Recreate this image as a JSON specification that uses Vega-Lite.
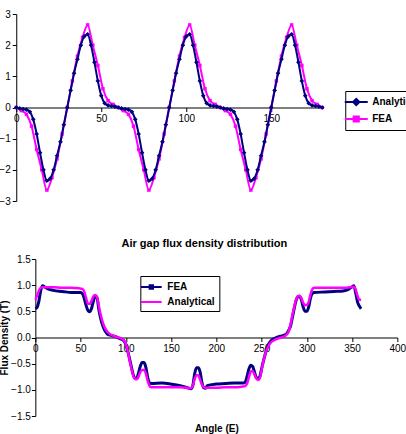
{
  "$schema": "https://vega.github.io/schema/vega-lite/v6.json",
  "padding": {"left": -2, "top": 9, "right": 0, "bottom": 0},
  "background": "white",
  "config": {
    "view": {"stroke": null},
    "font": "Liberation Sans",
    "axis": {
      "grid": false,
      "domainColor": "black",
      "tickColor": "black",
      "labelColor": "black",
      "titleColor": "black",
      "labelFont": "Liberation Sans",
      "titleFont": "Liberation Sans",
      "labelFontSize": 10,
      "tickSize": 4,
      "labelPadding": 2,
      "domainWidth": 1,
      "tickWidth": 1
    },
    "legend": {
      "labelFont": "Liberation Sans",
      "labelFontSize": 10,
      "labelFontWeight": "bold",
      "labelColor": "black",
      "strokeColor": "black",
      "fillColor": "white",
      "padding": 4,
      "symbolSize": 132,
      "labelOffset": 9,
      "title": null
    }
  },
  "datasets": {
    "wave": [
      {"deg": 0, "series": "Analytical", "v": 0}, {"deg": 2, "series": "Analytical", "v": -0.03}, {"deg": 4, "series": "Analytical", "v": -0.05}, {"deg": 6, "series": "Analytical", "v": -0.07}, {"deg": 8, "series": "Analytical", "v": -0.14}, {"deg": 10, "series": "Analytical", "v": -0.38}, {"deg": 12, "series": "Analytical", "v": -0.85}, {"deg": 14, "series": "Analytical", "v": -1.45}, {"deg": 16, "series": "Analytical", "v": -2.0}, {"deg": 18, "series": "Analytical", "v": -2.35}, {"deg": 20, "series": "Analytical", "v": -2.28}, {"deg": 22, "series": "Analytical", "v": -2.0}, {"deg": 24, "series": "Analytical", "v": -1.55}, {"deg": 26, "series": "Analytical", "v": -1.1}, {"deg": 28, "series": "Analytical", "v": -0.55},
      {"deg": 30, "series": "Analytical", "v": 0}, {"deg": 32, "series": "Analytical", "v": 0.55}, {"deg": 34, "series": "Analytical", "v": 1.1}, {"deg": 36, "series": "Analytical", "v": 1.55}, {"deg": 38, "series": "Analytical", "v": 2.0}, {"deg": 40, "series": "Analytical", "v": 2.28}, {"deg": 42, "series": "Analytical", "v": 2.35}, {"deg": 44, "series": "Analytical", "v": 2.0}, {"deg": 46, "series": "Analytical", "v": 1.45}, {"deg": 48, "series": "Analytical", "v": 0.85}, {"deg": 50, "series": "Analytical", "v": 0.38}, {"deg": 52, "series": "Analytical", "v": 0.14}, {"deg": 54, "series": "Analytical", "v": 0.07}, {"deg": 56, "series": "Analytical", "v": 0.05}, {"deg": 58, "series": "Analytical", "v": 0.03},
      {"deg": 60, "series": "Analytical", "v": 0}, {"deg": 62, "series": "Analytical", "v": -0.03}, {"deg": 64, "series": "Analytical", "v": -0.05}, {"deg": 66, "series": "Analytical", "v": -0.07}, {"deg": 68, "series": "Analytical", "v": -0.14}, {"deg": 70, "series": "Analytical", "v": -0.38}, {"deg": 72, "series": "Analytical", "v": -0.85}, {"deg": 74, "series": "Analytical", "v": -1.45}, {"deg": 76, "series": "Analytical", "v": -2.0}, {"deg": 78, "series": "Analytical", "v": -2.35}, {"deg": 80, "series": "Analytical", "v": -2.28}, {"deg": 82, "series": "Analytical", "v": -2.0}, {"deg": 84, "series": "Analytical", "v": -1.55}, {"deg": 86, "series": "Analytical", "v": -1.1}, {"deg": 88, "series": "Analytical", "v": -0.55},
      {"deg": 90, "series": "Analytical", "v": 0}, {"deg": 92, "series": "Analytical", "v": 0.55}, {"deg": 94, "series": "Analytical", "v": 1.1}, {"deg": 96, "series": "Analytical", "v": 1.55}, {"deg": 98, "series": "Analytical", "v": 2.0}, {"deg": 100, "series": "Analytical", "v": 2.28}, {"deg": 102, "series": "Analytical", "v": 2.35}, {"deg": 104, "series": "Analytical", "v": 2.0}, {"deg": 106, "series": "Analytical", "v": 1.45}, {"deg": 108, "series": "Analytical", "v": 0.85}, {"deg": 110, "series": "Analytical", "v": 0.38}, {"deg": 112, "series": "Analytical", "v": 0.14}, {"deg": 114, "series": "Analytical", "v": 0.07}, {"deg": 116, "series": "Analytical", "v": 0.05}, {"deg": 118, "series": "Analytical", "v": 0.03},
      {"deg": 120, "series": "Analytical", "v": 0}, {"deg": 122, "series": "Analytical", "v": -0.03}, {"deg": 124, "series": "Analytical", "v": -0.05}, {"deg": 126, "series": "Analytical", "v": -0.07}, {"deg": 128, "series": "Analytical", "v": -0.14}, {"deg": 130, "series": "Analytical", "v": -0.38}, {"deg": 132, "series": "Analytical", "v": -0.85}, {"deg": 134, "series": "Analytical", "v": -1.45}, {"deg": 136, "series": "Analytical", "v": -2.0}, {"deg": 138, "series": "Analytical", "v": -2.35}, {"deg": 140, "series": "Analytical", "v": -2.28}, {"deg": 142, "series": "Analytical", "v": -2.0}, {"deg": 144, "series": "Analytical", "v": -1.55}, {"deg": 146, "series": "Analytical", "v": -1.1}, {"deg": 148, "series": "Analytical", "v": -0.55},
      {"deg": 150, "series": "Analytical", "v": 0}, {"deg": 152, "series": "Analytical", "v": 0.55}, {"deg": 154, "series": "Analytical", "v": 1.1}, {"deg": 156, "series": "Analytical", "v": 1.55}, {"deg": 158, "series": "Analytical", "v": 2.0}, {"deg": 160, "series": "Analytical", "v": 2.28}, {"deg": 162, "series": "Analytical", "v": 2.35}, {"deg": 164, "series": "Analytical", "v": 2.0}, {"deg": 166, "series": "Analytical", "v": 1.45}, {"deg": 168, "series": "Analytical", "v": 0.85}, {"deg": 170, "series": "Analytical", "v": 0.38}, {"deg": 172, "series": "Analytical", "v": 0.14}, {"deg": 174, "series": "Analytical", "v": 0.07}, {"deg": 176, "series": "Analytical", "v": 0.05}, {"deg": 178, "series": "Analytical", "v": 0.03}, {"deg": 180, "series": "Analytical", "v": 0},
      {"deg": 0, "series": "FEA", "v": 0}, {"deg": 3, "series": "FEA", "v": -0.1}, {"deg": 6, "series": "FEA", "v": -0.22}, {"deg": 9, "series": "FEA", "v": -0.6}, {"deg": 12, "series": "FEA", "v": -1.35}, {"deg": 15, "series": "FEA", "v": -2.0}, {"deg": 18, "series": "FEA", "v": -2.65}, {"deg": 21, "series": "FEA", "v": -2.25}, {"deg": 24, "series": "FEA", "v": -1.65}, {"deg": 27, "series": "FEA", "v": -0.85},
      {"deg": 30, "series": "FEA", "v": 0}, {"deg": 33, "series": "FEA", "v": 0.85}, {"deg": 36, "series": "FEA", "v": 1.65}, {"deg": 39, "series": "FEA", "v": 2.25}, {"deg": 42, "series": "FEA", "v": 2.65}, {"deg": 45, "series": "FEA", "v": 2.0}, {"deg": 48, "series": "FEA", "v": 1.35}, {"deg": 51, "series": "FEA", "v": 0.6}, {"deg": 54, "series": "FEA", "v": 0.22}, {"deg": 57, "series": "FEA", "v": 0.1},
      {"deg": 60, "series": "FEA", "v": 0}, {"deg": 63, "series": "FEA", "v": -0.1}, {"deg": 66, "series": "FEA", "v": -0.22}, {"deg": 69, "series": "FEA", "v": -0.6}, {"deg": 72, "series": "FEA", "v": -1.35}, {"deg": 75, "series": "FEA", "v": -2.0}, {"deg": 78, "series": "FEA", "v": -2.65}, {"deg": 81, "series": "FEA", "v": -2.25}, {"deg": 84, "series": "FEA", "v": -1.65}, {"deg": 87, "series": "FEA", "v": -0.85},
      {"deg": 90, "series": "FEA", "v": 0}, {"deg": 93, "series": "FEA", "v": 0.85}, {"deg": 96, "series": "FEA", "v": 1.65}, {"deg": 99, "series": "FEA", "v": 2.25}, {"deg": 102, "series": "FEA", "v": 2.65}, {"deg": 105, "series": "FEA", "v": 2.0}, {"deg": 108, "series": "FEA", "v": 1.35}, {"deg": 111, "series": "FEA", "v": 0.6}, {"deg": 114, "series": "FEA", "v": 0.22}, {"deg": 117, "series": "FEA", "v": 0.1},
      {"deg": 120, "series": "FEA", "v": 0}, {"deg": 123, "series": "FEA", "v": -0.1}, {"deg": 126, "series": "FEA", "v": -0.22}, {"deg": 129, "series": "FEA", "v": -0.6}, {"deg": 132, "series": "FEA", "v": -1.35}, {"deg": 135, "series": "FEA", "v": -2.0}, {"deg": 138, "series": "FEA", "v": -2.65}, {"deg": 141, "series": "FEA", "v": -2.25}, {"deg": 144, "series": "FEA", "v": -1.65}, {"deg": 147, "series": "FEA", "v": -0.85},
      {"deg": 150, "series": "FEA", "v": 0}, {"deg": 153, "series": "FEA", "v": 0.85}, {"deg": 156, "series": "FEA", "v": 1.65}, {"deg": 159, "series": "FEA", "v": 2.25}, {"deg": 162, "series": "FEA", "v": 2.65}, {"deg": 165, "series": "FEA", "v": 2.0}, {"deg": 168, "series": "FEA", "v": 1.35}, {"deg": 171, "series": "FEA", "v": 0.6}, {"deg": 174, "series": "FEA", "v": 0.22}, {"deg": 177, "series": "FEA", "v": 0.1}, {"deg": 180, "series": "FEA", "v": 0}
    ],
    "flux": [
      {"angle": 0, "method": "FEA", "b": 0.55}, {"angle": 2, "method": "FEA", "b": 0.58}, {"angle": 4, "method": "FEA", "b": 0.7}, {"angle": 6, "method": "FEA", "b": 0.9}, {"angle": 8, "method": "FEA", "b": 0.99}, {"angle": 10, "method": "FEA", "b": 0.97}, {"angle": 14, "method": "FEA", "b": 0.93}, {"angle": 20, "method": "FEA", "b": 0.9}, {"angle": 30, "method": "FEA", "b": 0.88}, {"angle": 40, "method": "FEA", "b": 0.86}, {"angle": 50, "method": "FEA", "b": 0.86},
      {"angle": 52, "method": "FEA", "b": 0.84}, {"angle": 54, "method": "FEA", "b": 0.75}, {"angle": 56, "method": "FEA", "b": 0.62}, {"angle": 58, "method": "FEA", "b": 0.52}, {"angle": 60, "method": "FEA", "b": 0.49}, {"angle": 62, "method": "FEA", "b": 0.55}, {"angle": 64, "method": "FEA", "b": 0.68}, {"angle": 66, "method": "FEA", "b": 0.78}, {"angle": 68, "method": "FEA", "b": 0.78}, {"angle": 70, "method": "FEA", "b": 0.55},
      {"angle": 72, "method": "FEA", "b": 0.38}, {"angle": 74, "method": "FEA", "b": 0.25}, {"angle": 76, "method": "FEA", "b": 0.16}, {"angle": 78, "method": "FEA", "b": 0.1}, {"angle": 80, "method": "FEA", "b": 0.06}, {"angle": 84, "method": "FEA", "b": 0.04}, {"angle": 88, "method": "FEA", "b": 0.02}, {"angle": 92, "method": "FEA", "b": -0.01}, {"angle": 96, "method": "FEA", "b": -0.04}, {"angle": 98, "method": "FEA", "b": -0.07},
      {"angle": 100, "method": "FEA", "b": -0.13}, {"angle": 102, "method": "FEA", "b": -0.25}, {"angle": 104, "method": "FEA", "b": -0.4}, {"angle": 106, "method": "FEA", "b": -0.55}, {"angle": 108, "method": "FEA", "b": -0.7}, {"angle": 110, "method": "FEA", "b": -0.78}, {"angle": 112, "method": "FEA", "b": -0.78}, {"angle": 114, "method": "FEA", "b": -0.68}, {"angle": 116, "method": "FEA", "b": -0.55}, {"angle": 118, "method": "FEA", "b": -0.48},
      {"angle": 120, "method": "FEA", "b": -0.48}, {"angle": 122, "method": "FEA", "b": -0.56}, {"angle": 124, "method": "FEA", "b": -0.75}, {"angle": 126, "method": "FEA", "b": -0.86}, {"angle": 128, "method": "FEA", "b": -0.88}, {"angle": 140, "method": "FEA", "b": -0.87}, {"angle": 150, "method": "FEA", "b": -0.89}, {"angle": 160, "method": "FEA", "b": -0.92}, {"angle": 168, "method": "FEA", "b": -0.96}, {"angle": 172, "method": "FEA", "b": -0.98},
      {"angle": 174, "method": "FEA", "b": -0.92}, {"angle": 176, "method": "FEA", "b": -0.7}, {"angle": 178, "method": "FEA", "b": -0.58}, {"angle": 180, "method": "FEA", "b": -0.58}, {"angle": 182, "method": "FEA", "b": -0.65}, {"angle": 184, "method": "FEA", "b": -0.85}, {"angle": 186, "method": "FEA", "b": -0.96}, {"angle": 188, "method": "FEA", "b": -0.97}, {"angle": 190, "method": "FEA", "b": -0.92}, {"angle": 200, "method": "FEA", "b": -0.89},
      {"angle": 210, "method": "FEA", "b": -0.88}, {"angle": 220, "method": "FEA", "b": -0.87}, {"angle": 230, "method": "FEA", "b": -0.87}, {"angle": 232, "method": "FEA", "b": -0.85}, {"angle": 234, "method": "FEA", "b": -0.74}, {"angle": 236, "method": "FEA", "b": -0.6}, {"angle": 238, "method": "FEA", "b": -0.53}, {"angle": 240, "method": "FEA", "b": -0.55}, {"angle": 242, "method": "FEA", "b": -0.65}, {"angle": 244, "method": "FEA", "b": -0.76},
      {"angle": 246, "method": "FEA", "b": -0.78}, {"angle": 248, "method": "FEA", "b": -0.75}, {"angle": 250, "method": "FEA", "b": -0.6}, {"angle": 252, "method": "FEA", "b": -0.45}, {"angle": 254, "method": "FEA", "b": -0.32}, {"angle": 256, "method": "FEA", "b": -0.2}, {"angle": 258, "method": "FEA", "b": -0.12}, {"angle": 260, "method": "FEA", "b": -0.07}, {"angle": 264, "method": "FEA", "b": -0.02}, {"angle": 268, "method": "FEA", "b": 0.01},
      {"angle": 272, "method": "FEA", "b": 0.03}, {"angle": 276, "method": "FEA", "b": 0.05}, {"angle": 278, "method": "FEA", "b": 0.08}, {"angle": 280, "method": "FEA", "b": 0.14}, {"angle": 282, "method": "FEA", "b": 0.22}, {"angle": 284, "method": "FEA", "b": 0.38}, {"angle": 286, "method": "FEA", "b": 0.55}, {"angle": 288, "method": "FEA", "b": 0.7}, {"angle": 290, "method": "FEA", "b": 0.78}, {"angle": 292, "method": "FEA", "b": 0.79},
      {"angle": 294, "method": "FEA", "b": 0.72}, {"angle": 296, "method": "FEA", "b": 0.58}, {"angle": 298, "method": "FEA", "b": 0.5}, {"angle": 300, "method": "FEA", "b": 0.5}, {"angle": 302, "method": "FEA", "b": 0.58}, {"angle": 304, "method": "FEA", "b": 0.75}, {"angle": 306, "method": "FEA", "b": 0.84}, {"angle": 308, "method": "FEA", "b": 0.86}, {"angle": 320, "method": "FEA", "b": 0.87}, {"angle": 330, "method": "FEA", "b": 0.88},
      {"angle": 340, "method": "FEA", "b": 0.89}, {"angle": 346, "method": "FEA", "b": 0.92}, {"angle": 350, "method": "FEA", "b": 0.97}, {"angle": 352, "method": "FEA", "b": 0.99}, {"angle": 354, "method": "FEA", "b": 0.85}, {"angle": 356, "method": "FEA", "b": 0.68}, {"angle": 358, "method": "FEA", "b": 0.6}, {"angle": 360, "method": "FEA", "b": 0.55},
      {"angle": 0, "method": "Analytical", "b": 0.72}, {"angle": 2, "method": "Analytical", "b": 0.8}, {"angle": 4, "method": "Analytical", "b": 0.9}, {"angle": 6, "method": "Analytical", "b": 0.95}, {"angle": 8, "method": "Analytical", "b": 0.96}, {"angle": 20, "method": "Analytical", "b": 0.96}, {"angle": 30, "method": "Analytical", "b": 0.95}, {"angle": 40, "method": "Analytical", "b": 0.95}, {"angle": 48, "method": "Analytical", "b": 0.94}, {"angle": 52, "method": "Analytical", "b": 0.93},
      {"angle": 54, "method": "Analytical", "b": 0.88}, {"angle": 56, "method": "Analytical", "b": 0.76}, {"angle": 58, "method": "Analytical", "b": 0.65}, {"angle": 60, "method": "Analytical", "b": 0.64}, {"angle": 62, "method": "Analytical", "b": 0.7}, {"angle": 64, "method": "Analytical", "b": 0.78}, {"angle": 66, "method": "Analytical", "b": 0.81}, {"angle": 68, "method": "Analytical", "b": 0.78}, {"angle": 70, "method": "Analytical", "b": 0.62}, {"angle": 72, "method": "Analytical", "b": 0.45},
      {"angle": 74, "method": "Analytical", "b": 0.32}, {"angle": 76, "method": "Analytical", "b": 0.22}, {"angle": 78, "method": "Analytical", "b": 0.15}, {"angle": 80, "method": "Analytical", "b": 0.1}, {"angle": 84, "method": "Analytical", "b": 0.05}, {"angle": 88, "method": "Analytical", "b": 0.02}, {"angle": 92, "method": "Analytical", "b": 0}, {"angle": 96, "method": "Analytical", "b": -0.03}, {"angle": 98, "method": "Analytical", "b": -0.06}, {"angle": 100, "method": "Analytical", "b": -0.12},
      {"angle": 102, "method": "Analytical", "b": -0.25}, {"angle": 104, "method": "Analytical", "b": -0.42}, {"angle": 106, "method": "Analytical", "b": -0.58}, {"angle": 108, "method": "Analytical", "b": -0.72}, {"angle": 110, "method": "Analytical", "b": -0.79}, {"angle": 112, "method": "Analytical", "b": -0.8}, {"angle": 114, "method": "Analytical", "b": -0.75}, {"angle": 116, "method": "Analytical", "b": -0.66}, {"angle": 118, "method": "Analytical", "b": -0.62}, {"angle": 120, "method": "Analytical", "b": -0.62},
      {"angle": 122, "method": "Analytical", "b": -0.68}, {"angle": 124, "method": "Analytical", "b": -0.82}, {"angle": 126, "method": "Analytical", "b": -0.92}, {"angle": 128, "method": "Analytical", "b": -0.95}, {"angle": 140, "method": "Analytical", "b": -0.95}, {"angle": 150, "method": "Analytical", "b": -0.95}, {"angle": 160, "method": "Analytical", "b": -0.95}, {"angle": 168, "method": "Analytical", "b": -0.96}, {"angle": 172, "method": "Analytical", "b": -0.97}, {"angle": 174, "method": "Analytical", "b": -0.92},
      {"angle": 176, "method": "Analytical", "b": -0.8}, {"angle": 178, "method": "Analytical", "b": -0.72}, {"angle": 180, "method": "Analytical", "b": -0.72}, {"angle": 182, "method": "Analytical", "b": -0.8}, {"angle": 184, "method": "Analytical", "b": -0.9}, {"angle": 186, "method": "Analytical", "b": -0.95}, {"angle": 188, "method": "Analytical", "b": -0.96}, {"angle": 200, "method": "Analytical", "b": -0.96}, {"angle": 210, "method": "Analytical", "b": -0.95}, {"angle": 220, "method": "Analytical", "b": -0.95},
      {"angle": 228, "method": "Analytical", "b": -0.94}, {"angle": 232, "method": "Analytical", "b": -0.93}, {"angle": 234, "method": "Analytical", "b": -0.88}, {"angle": 236, "method": "Analytical", "b": -0.76}, {"angle": 238, "method": "Analytical", "b": -0.65}, {"angle": 240, "method": "Analytical", "b": -0.64}, {"angle": 242, "method": "Analytical", "b": -0.7}, {"angle": 244, "method": "Analytical", "b": -0.78}, {"angle": 246, "method": "Analytical", "b": -0.81}, {"angle": 248, "method": "Analytical", "b": -0.78},
      {"angle": 250, "method": "Analytical", "b": -0.62}, {"angle": 252, "method": "Analytical", "b": -0.45}, {"angle": 254, "method": "Analytical", "b": -0.32}, {"angle": 256, "method": "Analytical", "b": -0.22}, {"angle": 258, "method": "Analytical", "b": -0.15}, {"angle": 260, "method": "Analytical", "b": -0.1}, {"angle": 264, "method": "Analytical", "b": -0.05}, {"angle": 268, "method": "Analytical", "b": -0.02}, {"angle": 272, "method": "Analytical", "b": 0}, {"angle": 276, "method": "Analytical", "b": 0.03},
      {"angle": 278, "method": "Analytical", "b": 0.06}, {"angle": 280, "method": "Analytical", "b": 0.12}, {"angle": 282, "method": "Analytical", "b": 0.25}, {"angle": 284, "method": "Analytical", "b": 0.42}, {"angle": 286, "method": "Analytical", "b": 0.58}, {"angle": 288, "method": "Analytical", "b": 0.72}, {"angle": 290, "method": "Analytical", "b": 0.79}, {"angle": 292, "method": "Analytical", "b": 0.8}, {"angle": 294, "method": "Analytical", "b": 0.75}, {"angle": 296, "method": "Analytical", "b": 0.66},
      {"angle": 298, "method": "Analytical", "b": 0.62}, {"angle": 300, "method": "Analytical", "b": 0.62}, {"angle": 302, "method": "Analytical", "b": 0.68}, {"angle": 304, "method": "Analytical", "b": 0.82}, {"angle": 306, "method": "Analytical", "b": 0.92}, {"angle": 308, "method": "Analytical", "b": 0.95}, {"angle": 320, "method": "Analytical", "b": 0.95}, {"angle": 330, "method": "Analytical", "b": 0.95}, {"angle": 340, "method": "Analytical", "b": 0.95}, {"angle": 348, "method": "Analytical", "b": 0.96},
      {"angle": 352, "method": "Analytical", "b": 0.97}, {"angle": 354, "method": "Analytical", "b": 0.92}, {"angle": 356, "method": "Analytical", "b": 0.8}, {"angle": 358, "method": "Analytical", "b": 0.72}, {"angle": 360, "method": "Analytical", "b": 0.72}
    ]
  },
  "align": "all",
  "center": true,
  "spacing": 32,
  "resolve": {"scale": {"color": "independent"}, "legend": {"color": "independent"}},
  "vconcat": [
    {
      "width": 306,
      "height": 187,
      "data": {"name": "wave"},
      "encoding": {
        "x": {
          "field": "deg", "type": "quantitative",
          "scale": {"domain": [0, 180], "nice": false, "zero": false},
          "axis": {"values": [0, 50, 100, 150], "offset": -93.5, "title": null, "labelFlush": false}
        },
        "y": {
          "field": "v", "type": "quantitative",
          "scale": {"domain": [-3, 3], "nice": false},
          "axis": {"values": [-3, -2, -1, 0, 1, 2, 3], "title": null}
        },
        "color": {
          "field": "series", "type": "nominal",
          "scale": {"domain": ["Analytical", "FEA"], "range": ["#000080", "#ff00ff"]},
          "legend": {
            "orient": "none", "legendX": 329, "legendY": 77,
            "encode": {
              "symbols": {
                "update": {
                  "shape": {"signal": "datum.value == 'FEA' ? 'M-2,0H2M-0.45,-0.45H0.45V0.45H-0.45Z' : 'M-2,0H2M0,-0.55L0.55,0L0,0.55L-0.55,0Z'"},
                  "fill": {"signal": "datum.value == 'FEA' ? '#ff00ff' : '#000080'"},
                  "stroke": {"signal": "datum.value == 'FEA' ? '#ff00ff' : '#000080'"},
                  "strokeWidth": {"value": 2},
                  "opacity": {"value": 1}
                }
              }
            }
          }
        }
      },
      "layer": [
        {"transform": [{"filter": "datum.series == 'FEA'"}], "mark": {"type": "line", "interpolate": "monotone", "strokeWidth": 2}},
        {"transform": [{"filter": "datum.series == 'FEA'"}], "mark": {"type": "point", "shape": "square", "filled": true, "size": 12, "opacity": 1}},
        {"transform": [{"filter": "datum.series == 'Analytical'"}], "mark": {"type": "line", "interpolate": "monotone", "strokeWidth": 2}},
        {"transform": [{"filter": "datum.series == 'Analytical'"}], "mark": {"type": "point", "shape": "diamond", "filled": true, "size": 22, "opacity": 1}}
      ]
    },
    {
      "width": 362,
      "height": 157,
      "title": {"text": "Air gap flux density distribution", "font": "Liberation Sans", "fontSize": 11, "fontWeight": "bold", "color": "black", "offset": 5, "dx": -12},
      "data": {"name": "flux"},
      "encoding": {
        "x": {
          "field": "angle", "type": "quantitative",
          "scale": {"domain": [0, 400], "nice": false, "zero": false},
          "axis": {"values": [0, 50, 100, 150, 200, 250, 300, 350, 400], "offset": -78.5, "title": "Angle (E)", "titleFontSize": 10, "titleFontWeight": "bold", "titleY": 91, "titleBaseline": "middle", "labelFlush": false}
        },
        "y": {
          "field": "b", "type": "quantitative",
          "scale": {"domain": [-1.5, 1.5], "nice": false},
          "axis": {"values": [-1.5, -1, -0.5, 0, 0.5, 1, 1.5], "title": "Flux Density (T)", "titleFontSize": 10, "titleFontWeight": "bold", "titlePadding": 1, "labelPadding": 1}
        },
        "color": {
          "field": "method", "type": "nominal",
          "scale": {"domain": ["FEA", "Analytical"], "range": ["#000080", "#ff00ff"]},
          "legend": {
            "orient": "none", "legendX": 105, "legendY": 17,
            "encode": {
              "symbols": {
                "update": {
                  "shape": {"signal": "datum.value == 'FEA' ? 'M-1.8,0H1.8M-0.3,-0.3H0.3V0.3H-0.3Z' : 'M-1.8,0H1.8'"},
                  "fill": {"signal": "datum.value == 'FEA' ? '#000080' : '#ff00ff'"},
                  "stroke": {"signal": "datum.value == 'FEA' ? '#000080' : '#ff00ff'"},
                  "strokeWidth": {"value": 2},
                  "opacity": {"value": 1}
                }
              }
            }
          }
        }
      },
      "layer": [
        {"transform": [{"filter": "datum.method == 'FEA'"}], "mark": {"type": "line", "interpolate": "monotone", "strokeWidth": 3}},
        {"transform": [{"filter": "datum.method == 'Analytical'"}], "mark": {"type": "line", "interpolate": "monotone", "strokeWidth": 2.5}}
      ]
    }
  ]
}
